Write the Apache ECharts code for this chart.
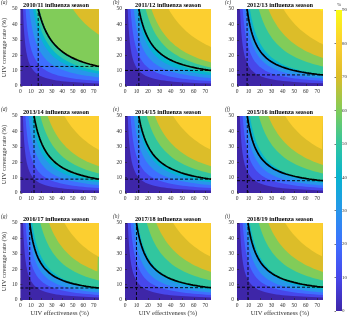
<!DOCTYPE html>
<html>
<head>
<meta charset="utf-8">
<script src="https://cdn.jsdelivr.net/npm/echarts@6/dist/echarts.min.js"></script>
<style>
html, body { margin: 0; padding: 0; background: #fff; }
#chart { width: 350px; height: 318px; }
</style>
</head>
<body>
<div id="chart"></div>
<script>
// seasons shown in the 3x3 panels
const seasons = ['2010/11', '2011/12', '2012/13', '2013/14', '2014/15', '2015/16', '2016/17', '2017/18', '2018/19'];
const panelTags = ['(a)', '(b)', '(c)', '(d)', '(e)', '(f)', '(g)', '(h)', '(i)'];
const colorbarTicks = [0, 10, 20, 30, 40, 50, 60, 70, 80, 90];

// contour levels (%) and where each level sits, as effectiveness x coverage product
const levelPct = [10, 20, 30, 40, 50, 60, 70, 80, 90];
const levels_a = [125, 245, 420, 600, 720, 900, 2500, null, null];
const levels_b = [120, 240, 380, 520, 650, 900, 1150, 1900, null];
const levels_c = [131, 248, 360, 495, 560, 950, 1365, 2025, 3600];
const levels_d = [120, 240, 380, 520, 620, 950, 1300, 2100, null];
const levels_e = [120, 240, 380, 520, 620, 950, 1300, 2100, null];
const levels_f = [125, 245, 360, 495, 560, 950, 1365, 2100, null];
const levels_g = [125, 245, 360, 495, 560, 950, 1365, 2100, null];
const levels_h = [125, 245, 360, 495, 560, 950, 1365, 2100, null];
const levels_i = [125, 245, 360, 495, 560, 950, 1365, 2100, null];
const panelLevels = [levels_a, levels_b, levels_c, levels_d, levels_e, levels_f, levels_g, levels_h, levels_i];

// dashed reference lines: effectiveness threshold (x) and coverage threshold (y)
const cutoffEff = [17, 12.1, 8.8, 13, 12, 9, 8.9, 10, 9.6];
const cutoffCov = [12.7, 10.1, 7.2, 9, 9, 8, 7.8, 8, 8.3];

const parula = ['#3E26A8', '#4747EB', '#3E6FFF', '#2796EB', '#08B4D0', '#31C69F', '#81CC59', '#DCBD29', '#FCCF30', '#F9FB15'];

const FONT = 'Liberation Serif';
const colLeft = [13, 125, 237];
const rowTop = [9, 116, 223];
const plotW = 86, plotH = 77;
const X_MAX = 75, Y_MAX = 50;

const chart = echarts.init(document.getElementById('chart'));

const grids = [], xAxes = [], yAxes = [], series = [], graphics = [];

// points along x*y = k inside the plot
function isoLine(k) {
    const x0 = k / Y_MAX;
    const pts = [];
    const n = 48;
    for (let i = 0; i <= n; i++) {
        const x = x0 * Math.pow(X_MAX / x0, i / n);
        pts.push([x, k / x]);
    }
    return pts;
}

seasons.forEach((season, i) => {
    const r = Math.floor(i / 3), c = i % 3;
    grids.push({
        left: colLeft[c], top: rowTop[r], width: plotW, height: plotH,
        show: true, backgroundColor: parula[0], borderWidth: 0
    });
    xAxes.push({
        gridIndex: i, type: 'value', min: 0, max: X_MAX, interval: 10,
        axisLine: { show: false },
        axisTick: { inside: true, length: 2, lineStyle: { color: '#222', width: 0.6 } },
        axisLabel: { fontSize: 5.5, fontFamily: FONT, color: '#333', margin: 3, showMaxLabel: false },
        splitLine: { show: false },
        name: r === 2 ? 'UIV effectiveness (%)' : '',
        nameLocation: 'middle', nameGap: 10,
        nameTextStyle: { fontSize: 6.5, fontFamily: FONT, color: '#333' }
    });
    yAxes.push({
        gridIndex: i, type: 'value', min: 0, max: Y_MAX, interval: 10,
        axisLine: { show: false },
        axisTick: { inside: true, length: 2, lineStyle: { color: '#222', width: 0.6 } },
        axisLabel: { fontSize: 5.5, fontFamily: FONT, color: '#333', margin: 3 },
        splitLine: { show: false },
        name: c === 0 ? 'UIV coverage rate (%)' : '',
        nameLocation: 'middle', nameGap: 8,
        nameTextStyle: { fontSize: 6.5, fontFamily: FONT, color: '#333' }
    });

    panelLevels[i].forEach((k, j) => {
        if (k == null || k / Y_MAX >= X_MAX) return;
        series.push({
            type: 'line', xAxisIndex: i, yAxisIndex: i, silent: true,
            showSymbol: false, clip: true,
            lineStyle: { width: 0, opacity: 0 },
            areaStyle: { color: parula[j + 1], opacity: 1, origin: 'end' },
            data: isoLine(k)
        });
    });

    // threshold curve through the two dashed-line crossings
    const e0 = cutoffEff[i], c0 = cutoffCov[i];
    const A = (Y_MAX - c0) / (1 / e0 - 1 / X_MAX);
    const B = Y_MAX - A / e0;
    const curve = [];
    for (let t = 0; t <= 60; t++) {
        const x = e0 * Math.pow(X_MAX / e0, t / 60);
        curve.push([x, A / x + B]);
    }
    series.push({
        type: 'line', xAxisIndex: i, yAxisIndex: i, silent: true,
        showSymbol: false, clip: true,
        lineStyle: { color: '#000', width: 1.7 },
        data: curve
    });
    series.push({
        type: 'line', xAxisIndex: i, yAxisIndex: i, silent: true,
        showSymbol: false, clip: true,
        lineStyle: { color: '#000', width: 0.9, type: [3, 2] },
        data: [[e0, 0], [e0, Y_MAX]]
    });
    series.push({
        type: 'line', xAxisIndex: i, yAxisIndex: i, silent: true,
        showSymbol: false, clip: true,
        lineStyle: { color: '#000', width: 0.9, type: [3, 2] },
        data: [[0, c0], [X_MAX, c0]]
    });

    const cx = colLeft[c] + plotW / 2;
    graphics.push({
        type: 'text', x: cx, y: rowTop[r] - 4, silent: true,
        style: { text: season + ' influenza season', align: 'center', verticalAlign: 'middle',
                 font: 'bold 6.3px "' + FONT + '"', fill: '#000' }
    });
    graphics.push({
        type: 'text', x: colLeft[c] - 12, y: rowTop[r] - 6, silent: true,
        style: { text: panelTags[i], align: 'left', verticalAlign: 'middle',
                 font: 'italic 5.5px "' + FONT + '"', fill: '#333' }
    });
});

// colour bar
const cbLeft = 336, cbTop = 10, cbW = 6, cbH = 301;
grids.push({ left: cbLeft, top: cbTop, width: cbW, height: cbH, show: false });
xAxes.push({ gridIndex: 9, type: 'value', min: 0, max: 1, show: false });
yAxes.push({
    gridIndex: 9, type: 'value', min: 0, max: 90, interval: 10, position: 'right',
    axisLine: { show: false },
    axisTick: { inside: true, length: 1.5, lineStyle: { color: '#222', width: 0.6 } },
    axisLabel: { fontSize: 5, fontFamily: FONT, color: '#333', margin: 3,
                 formatter: v => (colorbarTicks.indexOf(v) >= 0 ? String(v) : '') },
    splitLine: { show: false }
});
series.push({ type: 'scatter', xAxisIndex: 9, yAxisIndex: 9, data: [], silent: true });

graphics.push({
    type: 'rect', z: -1, silent: true,
    shape: { x: cbLeft, y: cbTop, width: cbW, height: cbH },
    style: {
        fill: new echarts.graphic.LinearGradient(0, 1, 0, 0,
            parula.map((col, k) => ({ offset: k / (parula.length - 1), color: col })))
    }
});
graphics.push({
    type: 'text', x: cbLeft + 3, y: cbTop - 5, silent: true,
    style: { text: '%', align: 'center', verticalAlign: 'middle', font: '5px "' + FONT + '"', fill: '#333' }
});

chart.setOption({
    animation: false,
    backgroundColor: '#fff',
    grid: grids,
    xAxis: xAxes,
    yAxis: yAxes,
    series: series,
    graphic: graphics
});
</script>
</body>
</html>
